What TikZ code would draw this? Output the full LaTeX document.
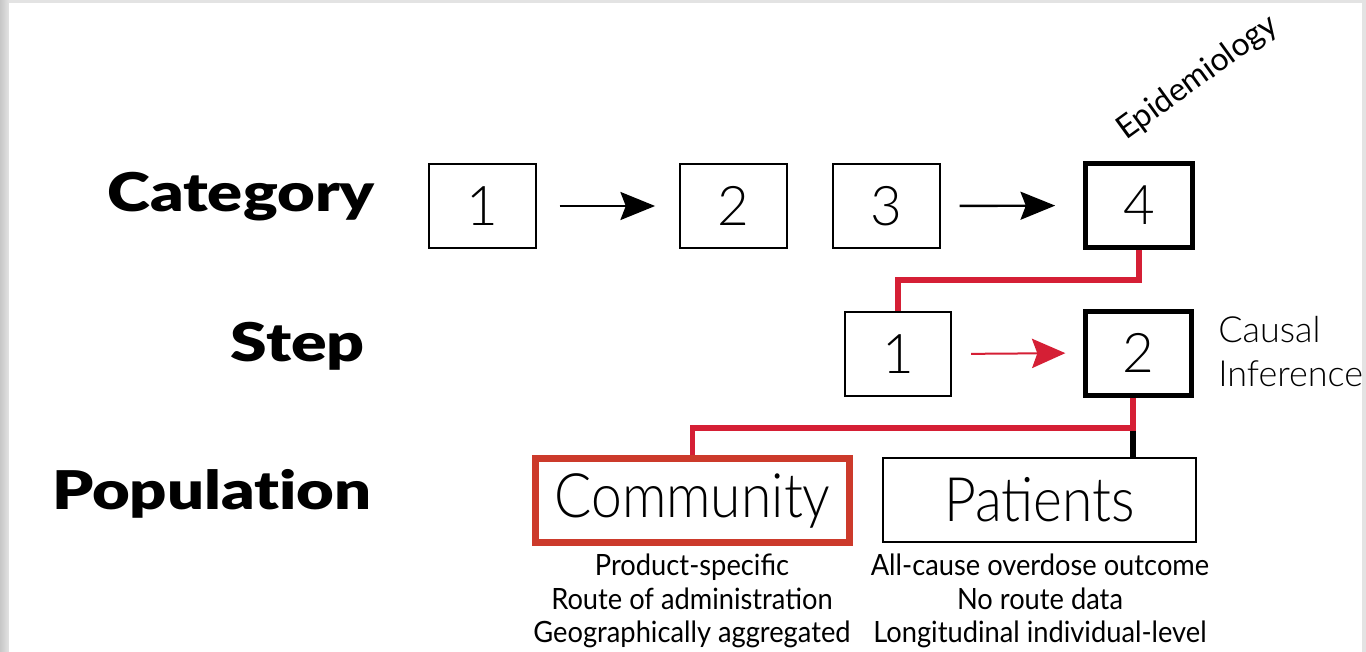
\documentclass[tikz,border=0pt]{standalone}
\usepackage{fontspec}
\setmainfont{Lato}
\newfontfamily\heavy[Ligatures=NoCommon]{Lato Black}
\newfontfamily\light{Lato Light}
\usetikzlibrary{arrows.meta,calc}
\definecolor{conred}{HTML}{D51F35}
\definecolor{comred}{HTML}{CC3A2B}
\definecolor{framegray}{HTML}{E3E3E3}
\begin{document}
\begin{tikzpicture}[x=0.75pt,y=-0.75pt,
  numbox/.style={draw=black,line width=1.6pt,minimum width=80pt,minimum height=63pt,inner sep=0pt,font=\light\fontsize{41}{41}\selectfont},
  thickbox/.style={numbox,line width=3.75pt},
  popbox/.style={draw=black,line width=1.6pt,minimum width=235pt,minimum height=63pt,inner sep=0pt,font=\light\fontsize{46}{46}\selectfont},
  rowlabel/.style={anchor=base east,inner sep=0pt,font=\heavy\fontsize{40}{40}\selectfont},
  desc/.style={align=center,inner sep=0pt,font=\fontsize{22}{25}\selectfont},
  side/.style={inner sep=0pt,font=\light\fontsize{27}{33}\selectfont},
  blkarrow/.style={draw=black,line width=1.8pt,-{Stealth[length=26pt,width=21pt,inset=4pt]}},
  redarrow/.style={draw=conred,line width=1.5pt,-{Stealth[length=25pt,width=22pt,inset=4pt]}},
  redline/.style={draw=conred,line width=3.8pt},
  blkline/.style={draw=black,line width=3.8pt}]
\useasboundingbox (0,0) rectangle (1366,652);
% frame
\fill[framegray] (0,0) rectangle (1366,652);
\shade[left color=black!22,right color=framegray] (0,0) rectangle (9,652);
\fill[white] (9,3) rectangle (1362,652);

% row labels
\node[rowlabel] (lcat) at (375,212) {\scalebox{1.22}[1]{Category}};
\node[rowlabel] (lstep) at (365,361) {\scalebox{1.24}[1]{Step}};
\node[rowlabel] (lpop) at (372,509) {\scalebox{1.22}[1]{Population}};

% category boxes
\node[numbox] (c1) at (482.5,206) {1};
\node[numbox] (c2) at (733.5,206) {2};
\node[numbox] (c3) at (886.5,206) {3};
\node[thickbox] (c4) at (1139,205.5) {4};

% step boxes
\node[numbox] (s1) at (898,354) {1};
\node[thickbox] (s2) at (1138.5,353) {2};

% population boxes
\node[popbox,draw=comred,line width=5.25pt] (comm) at (692.5,500.5) {\scalebox{0.9}[1]{Community}};
\node[popbox] (pat) at (1039.5,500) {\scalebox{0.9}[1]{Patients}};

% side labels
\node[side,font=\fontsize{24}{30}\selectfont,rotate=36,anchor=base west] (epi) at (1126,141) {Epidemiology};
\node[side,anchor=north west,align=left] (ci) at (1218,316) {Causal\\Inference};

% descriptions
\node[desc,anchor=north] (dcomm) at (692,554) {\scalebox{0.93}[1]{Product-specific}\\\scalebox{0.93}[1]{Route of administration}\\\scalebox{0.93}[1]{Geographically aggregated}};
\node[desc,anchor=north] (dpat) at (1040,554) {\scalebox{0.93}[1]{All-cause overdose outcome}\\\scalebox{0.93}[1]{No route data}\\\scalebox{0.93}[1]{Longitudinal individual-level}};

% arrows
\draw[blkarrow,shorten <=17pt,shorten >=18pt] (c1.east) -- (c2.west);
\draw[blkarrow,shorten <=14pt,shorten >=21pt] (c3.east) -- (c4.west);
\draw[redarrow,shorten <=14pt,shorten >=13pt] (s1.east) -- (s2.west);

% tree connectors
\coordinate (j1) at (1139,280);
\coordinate (j2) at (1133,428);
\draw[redline] (c4.south) -- (j1) -| (s1.north);
\draw[blkline] (j2) -- (j2 |- pat.north);
\draw[redline] (j2 |- s2.south) -- (j2) -| (comm.north);
\end{tikzpicture}
\end{document}
